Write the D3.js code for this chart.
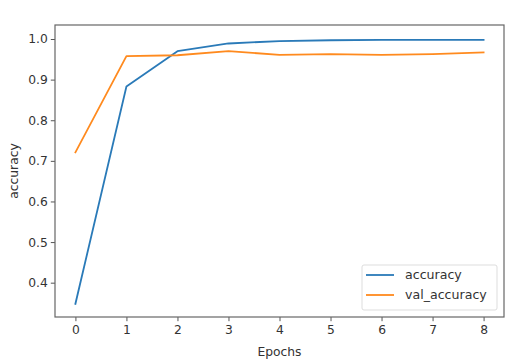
<!DOCTYPE html>
<html>
<head>
<meta charset="utf-8">
<script src="https://cdn.jsdelivr.net/npm/d3@7"></script>
<style>
    body { margin: 0; background: #fff; }
    text { font-family: "DejaVu Sans", sans-serif; fill: #333; }
</style>
</head>
<body>
<div id="chart"></div>
<script>
const epochs = [0, 1, 2, 3, 4, 5, 6, 7, 8]
const accuracy = [0.348, 0.883, 0.970, 0.989, 0.995, 0.997, 0.998, 0.998, 0.998]
const valAccuracy = [0.721, 0.958, 0.960, 0.970, 0.961, 0.963, 0.961, 0.963, 0.967]
const yTicks = [0.4, 0.5, 0.6, 0.7, 0.8, 0.9, 1.0]
const seriesNames = ["accuracy", "val_accuracy"]
const colors = ["#2a7ab8", "#ff8a1e"]

drawChart()

function drawChart(){
    const width = 514
    const height = 363
    const margin = {top: 25, right: 10, bottom: 46, left: 55}

    const svg = d3.select("#chart").append("svg")
        .attr("width", width)
        .attr("height", height)

    const x = d3.scaleLinear()
        .domain([-0.4, 8.4])
        .range([margin.left, width - margin.right])
    const y = d3.scaleLinear()
        .domain([0.3155, 1.0345])
        .range([height - margin.bottom, margin.top])

    const line = d3.line()
        .x((d, i) => x(epochs[i]))
        .y(d => y(d))

    const series = [accuracy, valAccuracy]
    series.forEach((s, k) => {
        svg.append("path")
            .attr("d", line(s))
            .attr("fill", "none")
            .attr("stroke", colors[k])
            .attr("stroke-width", 1.8)
            .attr("stroke-linejoin", "round")
            .attr("stroke-linecap", "square")
    })

    // axes
    const xAxis = svg.append("g")
        .attr("transform", "translate(0," + (height - margin.bottom) + ")")
        .call(d3.axisBottom(x).tickValues(epochs).tickSize(4.2).tickPadding(4).tickFormat(d3.format("d")))
    const yAxis = svg.append("g")
        .attr("transform", "translate(" + margin.left + ",0)")
        .call(d3.axisLeft(y).tickValues(yTicks).tickSize(4.2).tickPadding(3).tickFormat(d3.format(".1f")))

    ;[xAxis, yAxis].forEach(a => {
        a.select(".domain").remove()
        a.selectAll("line").attr("stroke", "#555").attr("stroke-width", 1)
        a.selectAll("text").attr("font-size", 12.3).style("fill", "#333")
            .attr("font-family", "DejaVu Sans")
    })

    // frame
    svg.append("rect")
        .attr("x", margin.left)
        .attr("y", margin.top)
        .attr("width", width - margin.right - margin.left)
        .attr("height", height - margin.bottom - margin.top)
        .attr("fill", "none")
        .attr("stroke", "#666")
        .attr("stroke-width", 1.2)

    svg.append("text")
        .attr("x", (margin.left + width - margin.right) / 2)
        .attr("y", 356)
        .attr("text-anchor", "middle")
        .attr("font-size", 12.3)
        .text("Epochs")

    svg.append("text")
        .attr("transform", "translate(18," + ((margin.top + height - margin.bottom) / 2) + ") rotate(-90)")
        .attr("text-anchor", "middle")
        .attr("font-size", 12.3)
        .text("accuracy")

    // legend
    const lg = svg.append("g").attr("transform", "translate(362,265)")
    lg.append("rect")
        .attr("width", 135)
        .attr("height", 45)
        .attr("rx", 2)
        .attr("fill", "#fff")
        .attr("stroke", "#ddd")
    seriesNames.forEach((n, k) => {
        lg.append("line")
            .attr("x1", 4).attr("x2", 32)
            .attr("y1", 10 + k * 20).attr("y2", 10 + k * 20)
            .attr("stroke", colors[k])
            .attr("stroke-width", 1.8)
        lg.append("text")
            .attr("x", 43)
            .attr("y", 14 + k * 20)
            .attr("font-size", 12.6)
            .text(n)
    })
}
</script>
</body>
</html>
